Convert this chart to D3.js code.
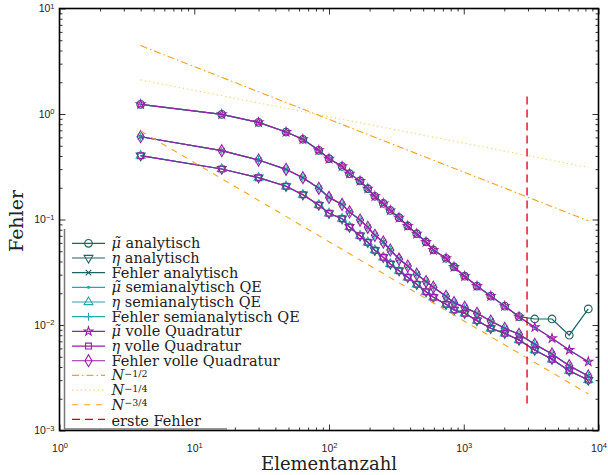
<!DOCTYPE html>
<html>
<head>
<meta charset="utf-8">
<script src="https://cdn.jsdelivr.net/npm/d3@7"></script>
<style>
  body { margin: 0; background: #fff; }
  svg { display: block; }
</style>
</head>
<body>
<div id="chart"></div>
<script>
// Elementanzahl (x) und Fehlerwerte
const elemente = [4, 16, 30, 48, 64, 84, 100, 125, 142, 170, 194, 219, 253, 285, 331, 384, 448, 525, 595, 739, 847, 1016, 1254, 1586, 2014, 2571, 3362, 4518, 6067, 8399];

const muVoll = [1.236, 0.993, 0.834, 0.675, 0.576, 0.453, 0.377, 0.319, 0.272, 0.232, 0.196, 0.166, 0.142, 0.122, 0.104, 0.0868, 0.0733, 0.0612, 0.0514, 0.0429, 0.0355, 0.0290, 0.0234, 0.0188, 0.0151, 0.0120, 0.00951, 0.00748, 0.00579, 0.00449];
const muAnalytisch = [1.236, 0.993, 0.834, 0.675, 0.576, 0.453, 0.377, 0.319, 0.272, 0.232, 0.196, 0.166, 0.142, 0.122, 0.104, 0.0868, 0.0733, 0.0612, 0.0514, 0.0429, 0.0355, 0.0290, 0.0234, 0.0188, 0.0151, 0.0120, 0.0114, 0.0114, 0.0080, 0.0142];
const etaWerte = [0.4025, 0.301, 0.249, 0.2064, 0.1718, 0.1372, 0.1145, 0.1018, 0.0849, 0.0702, 0.0608, 0.0511, 0.0438, 0.0379, 0.0327, 0.0283, 0.0243, 0.0207, 0.0183, 0.0157, 0.0139, 0.0129, 0.0110, 0.0093, 0.00834, 0.00721, 0.00579, 0.00473, 0.00369, 0.00301];
const fehlerWerte = [0.609, 0.449, 0.366, 0.299, 0.249, 0.1975, 0.162, 0.139, 0.118, 0.0989, 0.0844, 0.0708, 0.0612, 0.0514, 0.0422, 0.0362, 0.0303, 0.0258, 0.0228, 0.0187, 0.0163, 0.0147, 0.0129, 0.0109, 0.0093, 0.00816, 0.00656, 0.00531, 0.00411, 0.00329];

// Referenzgeraden c * N^p
const refExponenten = [-1/2, -1/4, -3/4];
const refFaktoren = [8.9, 2.98, 1.95];

// erste Fehler (vertikale Linie)
const ersteFehlerN = 2950;
const ersteFehlerY = [0.0018, 1.63];

const xTicksMajor = [1, 10, 100, 1000, 10000];
const yTicksMajor = [0.001, 0.01, 0.1, 1, 10];

const W = 608, H = 475;
const pLeft = 59.5, pRight = 598.5, pTop = 8.5, pBottom = 430.5;

const x = d3.scaleLog().domain([1, 1e4]).range([pLeft, pRight]);
const y = d3.scaleLog().domain([1e-3, 10]).range([pBottom, pTop]);

const svg = d3.select("#chart").append("svg")
  .attr("width", W).attr("height", H)
  .attr("viewBox", `0 0 ${W} ${H}`);

const cAna = "#1d6466", cSemi = "#22a9a9", cVoll = "#9a1ea6";

const serien = [
  { label: [["\u03bc\u0303", true], [" analytisch", false]], werte: muAnalytisch, farbe: cAna, marker: "circle" },
  { label: [["\u03b7", true], [" analytisch", false]], werte: etaWerte, farbe: cAna, marker: "triDown" },
  { label: [["Fehler analytisch", false]], werte: fehlerWerte, farbe: cAna, marker: "times" },
  { label: [["\u03bc\u0303", true], [" semianalytisch QE", false]], werte: muVoll, farbe: cSemi, marker: "dot" },
  { label: [["\u03b7", true], [" semianalytisch QE", false]], werte: etaWerte, farbe: cSemi, marker: "triUp" },
  { label: [["Fehler semianalytisch QE", false]], werte: fehlerWerte, farbe: cSemi, marker: "plus" },
  { label: [["\u03bc\u0303", true], [" volle Quadratur", false]], werte: muVoll, farbe: cVoll, marker: "star" },
  { label: [["\u03b7", true], [" volle Quadratur", false]], werte: etaWerte, farbe: cVoll, marker: "square" },
  { label: [["Fehler volle Quadratur", false]], werte: fehlerWerte, farbe: cVoll, marker: "diamond" }
];

function markerPfad(typ) {
  switch (typ) {
    case "circle": return d3.symbol(d3.symbolCircle, 46)();
    case "triDown": return d3.symbol(d3.symbolTriangle, 34)();
    case "triUp": return d3.symbol(d3.symbolTriangle, 34)();
    case "times": return d3.symbol(d3.symbolTimes, 22)();
    case "plus": return "M-4,0H4M0,-4V4";
    case "dot": return d3.symbol(d3.symbolCircle, 3)();
    case "star": return d3.symbol(d3.symbolStar, 24)();
    case "square": return d3.symbol(d3.symbolSquare, 34)();
    case "diamond": return d3.symbol(d3.symbolDiamond, 42)();
  }
}

function zeichneMarker(g, typ, farbe, px, py) {
  return g.append("path")
    .attr("d", markerPfad(typ))
    .attr("transform", `translate(${px},${py})` + (typ === "triDown" ? " rotate(180)" : ""))
    .attr("fill", typ === "dot" ? farbe : "none")
    .attr("stroke", farbe)
    .attr("stroke-width", 1.1);
}

svg.append("defs").append("clipPath").attr("id", "clip")
  .append("rect").attr("x", pLeft).attr("y", pTop).attr("width", pRight - pLeft).attr("height", pBottom - pTop);

const plot = svg.append("g").attr("clip-path", "url(#clip)");

const linie = d3.line().x(d => x(d[0])).y(d => y(d[1]));

serien.forEach(s => {
  const pts = elemente.map((n, i) => [n, s.werte[i]]);
  const g = plot.append("g");
  g.append("path").datum(pts)
    .attr("d", linie)
    .attr("fill", "none")
    .attr("stroke", s.farbe)
    .attr("stroke-width", 1.2);
  pts.forEach(p => zeichneMarker(g, s.marker, s.farbe, x(p[0]), y(p[1])));
});

// Referenzgeraden
const refStile = [
  { farbe: "#f2a31f", dash: "7,3,1.5,3", breite: 1.1 },
  { farbe: "#f9cf7a", dash: "1.3,3", breite: 1.1 },
  { farbe: "#f5a623", dash: "6,6", breite: 1.1 }
];
refExponenten.forEach((p, i) => {
  const n0 = elemente[0], n1 = elemente[elemente.length - 1];
  const pts = [[n0, refFaktoren[i] * Math.pow(n0, p)], [n1, refFaktoren[i] * Math.pow(n1, p)]];
  plot.append("path").datum(pts)
    .attr("d", linie)
    .attr("fill", "none")
    .attr("stroke", refStile[i].farbe)
    .attr("stroke-width", refStile[i].breite)
    .attr("stroke-dasharray", refStile[i].dash);
});

plot.append("path")
  .datum([[ersteFehlerN, ersteFehlerY[0]], [ersteFehlerN, ersteFehlerY[1]]])
  .attr("d", linie)
  .attr("fill", "none")
  .attr("stroke", "#d20000")
  .attr("stroke-width", 1.3)
  .attr("stroke-dasharray", "8,5");

// Achsen
const minorX = x.ticks().filter(v => !xTicksMajor.includes(v));
const minorY = y.ticks().filter(v => !yTicksMajor.some(m => Math.abs(m - v) / m < 1e-9));

function hochzahl(sel) {
  sel.selectAll(".tick text").each(function(d) {
    const t = d3.select(this);
    const e = Math.round(Math.log10(d));
    t.text(null);
    t.append("tspan").text("10");
    t.append("tspan").attr("dy", "-0.5em").attr("font-size", "7.5px").text(e < 0 ? "\u2212" + (-e) : e);
  });
}

const achsen = svg.append("g").attr("font-family", "'Liberation Sans', Arial, sans-serif");

const xB = achsen.append("g").attr("transform", `translate(0,${pBottom})`)
  .call(d3.axisBottom(x).tickValues(xTicksMajor).tickSize(-6).tickPadding(14));
xB.call(hochzahl);
achsen.append("g").attr("transform", `translate(0,${pBottom})`)
  .call(d3.axisBottom(x).tickValues(minorX).tickSize(-3).tickFormat(""));
achsen.append("g").attr("transform", `translate(0,${pTop})`)
  .call(d3.axisTop(x).tickValues(xTicksMajor).tickSize(-6).tickFormat(""));
achsen.append("g").attr("transform", `translate(0,${pTop})`)
  .call(d3.axisTop(x).tickValues(minorX).tickSize(-3).tickFormat(""));

const yL = achsen.append("g").attr("transform", `translate(${pLeft},0)`)
  .call(d3.axisLeft(y).tickValues(yTicksMajor).tickSize(-6).tickPadding(5));
yL.call(hochzahl);
achsen.append("g").attr("transform", `translate(${pLeft},0)`)
  .call(d3.axisLeft(y).tickValues(minorY).tickSize(-3).tickFormat(""));
achsen.append("g").attr("transform", `translate(${pRight},0)`)
  .call(d3.axisRight(y).tickValues(yTicksMajor).tickSize(-6).tickFormat(""));
achsen.append("g").attr("transform", `translate(${pRight},0)`)
  .call(d3.axisRight(y).tickValues(minorY).tickSize(-3).tickFormat(""));

achsen.selectAll(".domain").remove();
achsen.selectAll(".tick line").attr("stroke", "#000").attr("stroke-width", 0.8);
achsen.selectAll(".tick text").attr("font-size", "10.5px").attr("fill", "#222");

svg.append("rect")
  .attr("x", pLeft).attr("y", pTop)
  .attr("width", pRight - pLeft).attr("height", pBottom - pTop)
  .attr("fill", "none").attr("stroke", "#000").attr("stroke-width", 1.6);

// Achsenbeschriftung
const serif = "'DejaVu Serif', 'Liberation Serif', serif";
svg.append("text")
  .attr("x", (pLeft + pRight) / 2).attr("y", 470)
  .attr("text-anchor", "middle")
  .attr("font-family", serif).attr("font-size", "18px").attr("fill", "#222")
  .text("Elementanzahl");
svg.append("text")
  .attr("transform", "translate(23,221) rotate(-90)")
  .attr("text-anchor", "middle")
  .attr("font-family", serif).attr("font-size", "19px").attr("fill", "#222")
  .text("Fehler");

// Legende
const leg = svg.append("g");
const legX = 64.5, legTop = 229, legBottom = 429, legRight = 227;
leg.append("rect").attr("x", legX).attr("y", legTop)
  .attr("width", legRight - legX).attr("height", legBottom - legTop)
  .attr("fill", "#fff");
leg.append("path")
  .attr("d", `M${legX},${legTop}V${legBottom}H${legRight}`)
  .attr("fill", "none").attr("stroke", "#777").attr("stroke-width", 1.5);

const legEintraege = serien.map(s => ({ typ: "serie", s }))
  .concat(refExponenten.map((p, i) => ({ typ: "ref", i, p })))
  .concat([{ typ: "rot" }]);
const refTexte = ["\u22121/2", "\u22121/4", "\u22123/4"];

legEintraege.forEach((e, k) => {
  const cy = 243.3 + k * 14.68;
  const x0 = 72, x1 = 105;
  const g = leg.append("g");
  if (e.typ === "serie") {
    g.append("line").attr("x1", x0).attr("x2", x1).attr("y1", cy).attr("y2", cy)
      .attr("stroke", e.s.farbe).attr("stroke-width", 1.2);
    zeichneMarker(g, e.s.marker, e.s.farbe, (x0 + x1) / 2, cy);
  } else if (e.typ === "ref") {
    g.append("line").attr("x1", x0).attr("x2", x1).attr("y1", cy).attr("y2", cy)
      .attr("stroke", refStile[e.i].farbe).attr("stroke-width", 1.1)
      .attr("stroke-dasharray", refStile[e.i].dash);
  } else {
    g.append("line").attr("x1", x0).attr("x2", x1).attr("y1", cy).attr("y2", cy)
      .attr("stroke", "#d20000").attr("stroke-width", 1.3).attr("stroke-dasharray", "8,5");
  }
  const t = g.append("text").attr("x", 111.5).attr("y", cy + 5)
    .attr("font-family", serif).attr("font-size", "14.5px").attr("fill", "#222");
  if (e.typ === "serie") {
    e.s.label.forEach(([txt, kursiv]) => {
      t.append("tspan").attr("font-style", kursiv ? "italic" : "normal").text(txt);
    });
  } else if (e.typ === "ref") {
    t.append("tspan").attr("font-style", "italic").text("N");
    t.append("tspan").attr("dy", "-0.35em").attr("font-size", "9.5px").text(refTexte[e.i]);
  } else {
    t.attr("y", cy + 6.5).text("erste Fehler");
  }
});
</script>
</body>
</html>
